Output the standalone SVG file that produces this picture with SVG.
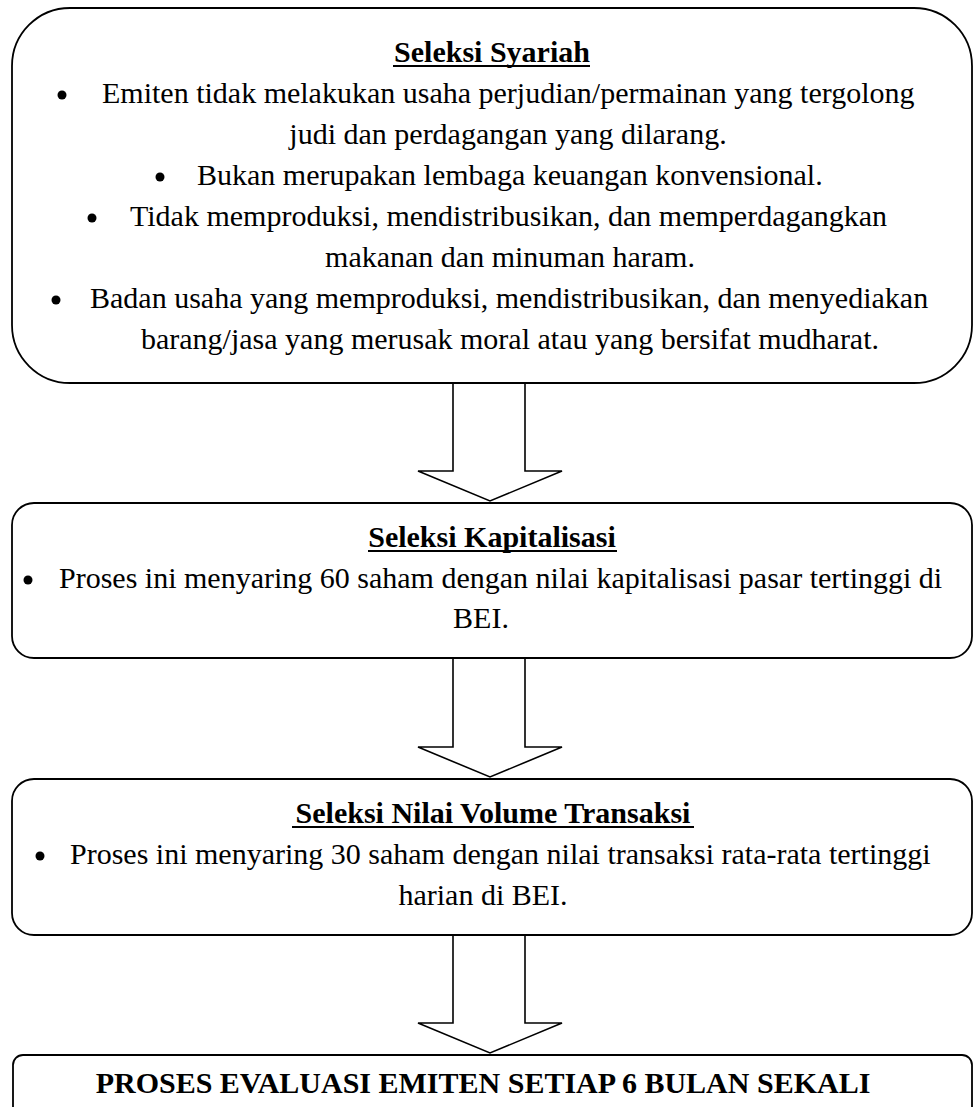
<svg xmlns="http://www.w3.org/2000/svg" width="974" height="1107" viewBox="0 0 974 1107">
<style>
.box{fill:#fff;stroke:#000;stroke-width:1.8}
.arr{fill:#fff;stroke:#000;stroke-width:1.6;stroke-linejoin:miter}
text{font-family:"Liberation Serif","Times New Roman",serif;font-size:30px;fill:#000}
.t{font-weight:bold;text-anchor:middle}
.c{text-anchor:middle}
.ul{stroke:#000;stroke-width:2}
.b{fill:#000}
</style>
<rect width="974" height="1107" fill="#fff"/>
<g id="connectors">
<polygon class="arr" points="453,383 525,383 525,471 562,471 490,501 418,471 453,471"/>
<polygon class="arr" points="453,658 525,658 525,747 562,747 490,777 418,747 453,747"/>
<polygon class="arr" points="453,935 525,935 525,1023 562,1023 490,1053 418,1023 453,1023"/>
</g>
<g id="syariah">
<rect class="box" x="12" y="8" width="960" height="375" rx="58" ry="58"/>
<text class="t" x="492" y="62">Seleksi Syariah</text>
<line class="ul" x1="393" y1="66" x2="590" y2="66"/>
<circle class="b" cx="62" cy="95" r="4.5"/>
<text x="102" y="103">Emiten tidak melakukan usaha perjudian/permainan yang tergolong</text>
<text class="c" x="508" y="144">judi dan perdagangan yang dilarang.</text>
<circle class="b" cx="160" cy="177" r="4.5"/>
<text x="197" y="185">Bukan merupakan lembaga keuangan konvensional.</text>
<circle class="b" cx="92" cy="218" r="4.5"/>
<text x="130" y="226">Tidak memproduksi, mendistribusikan, dan memperdagangkan</text>
<text class="c" x="510" y="267">makanan dan minuman haram.</text>
<circle class="b" cx="56" cy="300" r="4.5"/>
<text x="90" y="308">Badan usaha yang memproduksi, mendistribusikan, dan menyediakan</text>
<text class="c" x="510" y="349">barang/jasa yang merusak moral atau yang bersifat mudharat.</text>
</g>
<g id="kapitalisasi">
<rect class="box" x="12" y="503" width="960" height="155" rx="22" ry="22"/>
<text class="t" x="492" y="547">Seleksi Kapitalisasi</text>
<line class="ul" x1="368" y1="551" x2="617" y2="551"/>
<circle class="b" cx="28" cy="580" r="4.5"/>
<text x="59" y="588">Proses ini menyaring 60 saham dengan nilai kapitalisasi pasar tertinggi di</text>
<text class="c" x="481" y="628">BEI.</text>
</g>
<g id="volume">
<rect class="box" x="12" y="779" width="960" height="156" rx="22" ry="22"/>
<text class="t" x="493" y="823">Seleksi Nilai Volume Transaksi</text>
<line class="ul" x1="292" y1="827" x2="694" y2="827"/>
<circle class="b" cx="40" cy="856" r="4.5"/>
<text x="70" y="864">Proses ini menyaring 30 saham dengan nilai transaksi rata-rata tertinggi</text>
<text class="c" x="483" y="905">harian di BEI.</text>
</g>
<g id="evaluasi">
<rect class="box" x="13" y="1055" width="959" height="100" rx="10" ry="10"/>
<text class="t" x="483" y="1093">PROSES EVALUASI EMITEN SETIAP 6 BULAN SEKALI</text>
</g>
</svg>
